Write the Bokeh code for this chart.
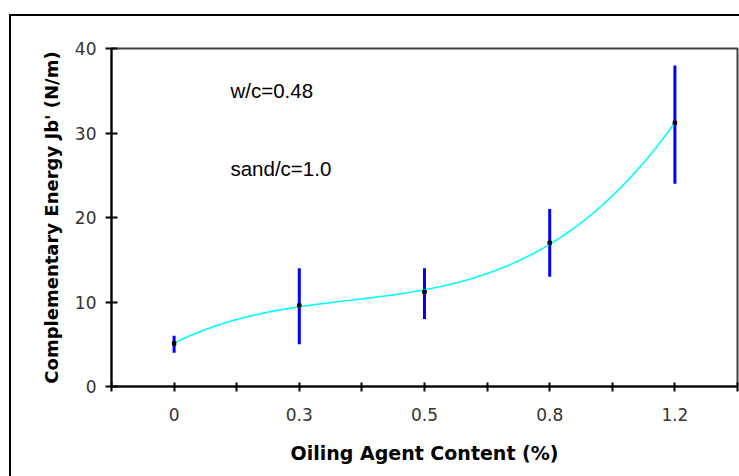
import numpy as np
from bokeh.plotting import figure
from bokeh.models import Range1d, FixedTicker, Label
from bokeh.embed import file_html
from bokeh.resources import INLINE

# Oiling agent content (%) and complementary energy Jb' (N/m)
contents = ["0", "0.3", "0.5", "0.8", "1.2"]
energy_mean = [5.1, 9.6, 11.2, 17.0, 31.2]
energy_low = [4.0, 5.0, 8.0, 13.0, 24.0]
energy_high = [6.0, 14.0, 14.0, 21.0, 38.0]
y_ticks = [0, 10, 20, 30, 40]

pos = np.arange(len(contents))

p = figure(
    frame_width=626, frame_height=338,
    x_range=Range1d(-0.5, len(contents) - 0.5),
    y_range=Range1d(0, 40),
    output_backend="svg", toolbar_location=None,
    min_border_left=100, min_border_right=2,
    min_border_top=32, min_border_bottom=90,
    margin=(14, 0, 0, 9),
    styles={"border-left": "2px solid black", "border-top": "2px solid black"},
)
p.background_fill_color = "white"
p.border_fill_color = "white"
p.outline_line_color = "#404040"
p.outline_line_width = 2
p.xgrid.visible = False
p.ygrid.visible = False

# range bars
p.segment(x0=pos, y0=energy_low, x1=pos, y1=energy_high,
          line_color="#0000FF", line_width=3)

# cubic trend line through the means
coef = np.polyfit(pos, energy_mean, 3)
xs = np.linspace(pos[0], pos[-1], 200)
p.line(xs, np.polyval(coef, xs), line_color="#00FFFF", line_width=1.6)

# mean values
p.scatter(pos, energy_mean, marker="square", size=3.5,
          fill_color="black", line_color="black")

tick_font = "DejaVu Sans"
title_font = "DejaVu Sans"

xa = p.xaxis[0]
xa.ticker = FixedTicker(ticks=list(pos),
                        minor_ticks=[i - 0.5 for i in range(len(contents) + 1)])
xa.major_label_overrides = {int(i): c for i, c in zip(pos, contents)}
xa.axis_label = "Oiling Agent Content (%)"

ya = p.yaxis[0]
ya.ticker = FixedTicker(ticks=y_ticks, minor_ticks=[])
ya.axis_label = "Complementary Energy Jb' (N/m)"

for ax in (xa, ya):
    ax.axis_line_color = "black"
    ax.axis_line_width = 2
    ax.major_tick_line_color = "black"
    ax.major_tick_line_width = 2
    ax.minor_tick_line_color = "black"
    ax.minor_tick_line_width = 2
    ax.major_label_text_font = tick_font
    ax.major_label_text_font_size = "17px"
    ax.major_label_text_color = "#333333"
    ax.axis_label_text_font = title_font
    ax.axis_label_text_font_style = "bold"
    ax.axis_label_text_color = "black"

xa.axis_label_text_font_size = "19px"
ya.axis_label_text_font_size = "18px"

xa.major_tick_in = 4
xa.major_tick_out = 5
xa.minor_tick_in = 4
xa.minor_tick_out = 5
xa.major_label_standoff = 16
xa.axis_label_standoff = 18

ya.major_tick_in = 6
ya.major_tick_out = 6
ya.major_label_standoff = 9
ya.axis_label_standoff = 10

for txt, yv in (("w/c=0.48", 35.0), ("sand/c=1.0", 25.8)):
    p.add_layout(Label(x=0.45, y=yv, text=txt, text_baseline="middle",
                       text_font="Liberation Sans", text_font_size="20.5px",
                       text_color="black"))

open("out.html", "w").write(file_html(p, INLINE))
